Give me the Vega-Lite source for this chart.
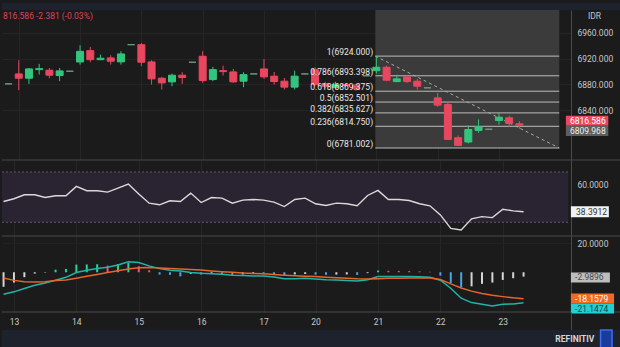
{
"$schema": "https://vega.github.io/schema/vega-lite/v6.json",
"background": "#1b1b1b",
"padding": 0,
"bounds": "flush",
"spacing": 0,
"config": {
  "font": "Roboto",
  "view": {"stroke": null},
  "axis": {"labelFont": "Roboto", "labelFontSize": 8.5, "labelColor": "#c8c8c8", "ticks": false, "domainColor": "#4a4a4a", "gridColor": "#262626", "gridWidth": 1}
},
"datasets": {
  "bars": [
    {"i":0,"o":6880.8,"h":6880.8,"l":6880.8,"c":6880.8,"r":46.5,"m":-15.2,"s":-4.0,"hs":-10.0},
    {"i":1,"o":6896.3,"h":6917.6,"l":6871.0,"c":6889.6,"r":48.7,"m":-13.5,"s":-5.6,"hs":-7.1},
    {"i":2,"o":6889.6,"h":6905.6,"l":6880.8,"c":6904.1,"r":51.9,"m":-11.2,"s":-6.5,"hs":-3.4},
    {"i":3,"o":6903.0,"h":6911.9,"l":6895.2,"c":6904.5,"r":51.9,"m":-8.9,"s":-6.7,"hs":-0.9},
    {"i":4,"o":6902.1,"h":6905.6,"l":6889.6,"c":6894.3,"r":49.7,"m":-7.4,"s":-6.5,"hs":-0.3},
    {"i":5,"o":6893.7,"h":6905.6,"l":6885.0,"c":6901.0,"r":51.1,"m":-5.5,"s":-5.7,"hs":1.8},
    {"i":6,"o":6900.5,"h":6900.5,"l":6900.5,"c":6900.5,"r":51.1,"m":-3.5,"s":-5.3,"hs":2.3},
    {"i":7,"o":6914.9,"h":6940.9,"l":6910.7,"c":6931.5,"r":58.5,"m":-0.2,"s":-4.1,"hs":5.3},
    {"i":8,"o":6932.5,"h":6938.3,"l":6914.5,"c":6918.5,"r":55.1,"m":1.4,"s":-2.8,"hs":5.4},
    {"i":9,"o":6918.5,"h":6926.3,"l":6917.6,"c":6920.7,"r":55.1,"m":2.6,"s":-1.5,"hs":5.5},
    {"i":10,"o":6921.2,"h":6925.4,"l":6910.8,"c":6916.0,"r":54.0,"m":3.4,"s":-0.1,"hs":4.6},
    {"i":11,"o":6915.0,"h":6931.6,"l":6910.8,"c":6927.4,"r":57.2,"m":5.0,"s":1.0,"hs":5.7},
    {"i":12,"o":6941.8,"h":6941.8,"l":6941.8,"c":6941.8,"r":60.4,"m":7.2,"s":2.2,"hs":6.4},
    {"i":13,"o":6941.8,"h":6944.5,"l":6908.3,"c":6914.5,"r":52.4,"m":6.7,"s":3.1,"hs":4.1},
    {"i":14,"o":6915.0,"h":6917.6,"l":6879.7,"c":6888.6,"r":45.2,"m":4.4,"s":3.2,"hs":1.4},
    {"i":15,"o":6889.6,"h":6891.7,"l":6872.0,"c":6882.3,"r":43.9,"m":2.5,"s":3.0,"hs":-1.6},
    {"i":16,"o":6883.9,"h":6896.8,"l":6877.2,"c":6894.3,"r":47.1,"m":1.4,"s":2.6,"hs":-1.8},
    {"i":17,"o":6894.3,"h":6899.0,"l":6880.8,"c":6890.6,"r":46.5,"m":0.8,"s":2.3,"hs":-2.8},
    {"i":18,"o":6914.5,"h":6914.5,"l":6914.5,"c":6914.5,"r":53.2,"m":-0.1,"s":1.9,"hs":-1.1},
    {"i":19,"o":6923.8,"h":6931.6,"l":6882.3,"c":6885.9,"r":45.7,"m":-0.7,"s":1.5,"hs":-1.6},
    {"i":20,"o":6887.5,"h":6907.2,"l":6885.0,"c":6903.0,"r":49.7,"m":-1.1,"s":0.9,"hs":-1.2},
    {"i":21,"o":6901.4,"h":6909.2,"l":6893.7,"c":6899.9,"r":49.2,"m":-1.4,"s":0.4,"hs":-1.5},
    {"i":22,"o":6899.4,"h":6904.1,"l":6882.3,"c":6883.9,"r":45.2,"m":-2.1,"s":0.0,"hs":-1.8},
    {"i":23,"o":6885.0,"h":6899.0,"l":6875.7,"c":6895.2,"r":47.6,"m":-2.3,"s":-0.5,"hs":-1.5},
    {"i":24,"o":6896.3,"h":6896.3,"l":6896.3,"c":6896.3,"r":48.1,"m":-2.5,"s":-0.8,"hs":-1.2},
    {"i":25,"o":6904.1,"h":6919.6,"l":6888.6,"c":6891.7,"r":47.6,"m":-2.5,"s":-1.1,"hs":-1.4},
    {"i":26,"o":6892.8,"h":6899.4,"l":6879.7,"c":6884.4,"r":46.0,"m":-3.2,"s":-1.5,"hs":-1.6},
    {"i":27,"o":6885.0,"h":6890.1,"l":6872.0,"c":6875.7,"r":42.5,"m":-4.4,"s":-2.0,"hs":-2.0},
    {"i":28,"o":6875.7,"h":6901.4,"l":6872.0,"c":6892.8,"r":48.1,"m":-4.4,"s":-2.4,"hs":-1.5},
    {"i":29,"o":6896.3,"h":6896.3,"l":6896.3,"c":6896.3,"r":49.2,"m":-4.1,"s":-2.7,"hs":-1.2},
    {"i":30,"o":6903.0,"h":6906.7,"l":6877.2,"c":6879.7,"r":44.7,"m":-4.6,"s":-3.0,"hs":-1.6},
    {"i":31,"o":6881.0,"h":6884.0,"l":6874.0,"c":6877.0,"r":43.3,"m":-5.1,"s":-3.4,"hs":-1.8},
    {"i":32,"o":6875.0,"h":6884.0,"l":6872.0,"c":6880.0,"r":45.2,"m":-5.3,"s":-3.7,"hs":-1.6},
    {"i":33,"o":6880.0,"h":6882.0,"l":6875.0,"c":6878.5,"r":44.7,"m":-5.7,"s":-4.1,"hs":-1.5},
    {"i":34,"o":6879.0,"h":6881.0,"l":6870.0,"c":6873.0,"r":43.1,"m":-6.0,"s":-4.5,"hs":-1.8},
    {"i":35,"o":6893.4,"h":6893.4,"l":6893.4,"c":6893.4,"r":51.3,"m":-5.1,"s":-4.6,"hs":-0.6},
    {"i":36,"o":6901.4,"h":6924.0,"l":6897.0,"c":6906.7,"r":55.3,"m":-3.0,"s":-4.4,"hs":1.2},
    {"i":37,"o":6906.7,"h":6909.2,"l":6885.0,"c":6886.5,"r":48.1,"m":-3.0,"s":-4.2,"hs":1.0},
    {"i":38,"o":6884.4,"h":6895.2,"l":6883.4,"c":6888.6,"r":48.1,"m":-3.0,"s":-4.1,"hs":0.9},
    {"i":39,"o":6891.7,"h":6893.7,"l":6882.3,"c":6884.4,"r":47.3,"m":-3.0,"s":-4.0,"hs":0.8},
    {"i":40,"o":6885.0,"h":6888.6,"l":6872.0,"c":6877.2,"r":44.7,"m":-3.1,"s":-3.9,"hs":0.6},
    {"i":41,"o":6874.6,"h":6874.6,"l":6874.6,"c":6874.6,"r":43.1,"m":-3.4,"s":-4.0,"hs":0.3},
    {"i":42,"o":6859.0,"h":6866.8,"l":6845.0,"c":6847.7,"r":35.9,"m":-5.5,"s":-5.0,"hs":-2.3},
    {"i":43,"o":6848.7,"h":6852.4,"l":6793.4,"c":6794.3,"r":25.2,"m":-11.0,"s":-8.0,"hs":-7.4},
    {"i":44,"o":6797.0,"h":6800.5,"l":6784.0,"c":6785.0,"r":23.9,"m":-17.9,"s":-10.8,"hs":-10.3},
    {"i":45,"o":6790.3,"h":6816.0,"l":6788.0,"c":6809.8,"r":32.7,"m":-20.9,"s":-13.0,"hs":-9.7},
    {"i":46,"o":6808.3,"h":6825.4,"l":6804.7,"c":6814.0,"r":34.5,"m":-22.1,"s":-14.7,"hs":-8.0},
    {"i":47,"o":6810.2,"h":6810.2,"l":6810.2,"c":6810.2,"r":33.7,"m":-23.2,"s":-15.9,"hs":-7.1},
    {"i":48,"o":6823.8,"h":6835.8,"l":6817.6,"c":6829.0,"r":40.4,"m":-22.1,"s":-16.8,"hs":-5.3},
    {"i":49,"o":6828.0,"h":6831.6,"l":6814.0,"c":6819.1,"r":39.1,"m":-21.8,"s":-17.6,"hs":-4.1},
    {"i":50,"o":6818.7,"h":6822.9,"l":6810.9,"c":6816.6,"r":38.4,"m":-21.1,"s":-18.2,"hs":-3.0}
  ],
  "fib": [
    {"t":"1(6924.000)","p":6924.0},
    {"t":"0.786(6893.398)","p":6893.398},
    {"t":"0.618(6869.375)","p":6869.375},
    {"t":"0.5(6852.501)","p":6852.501},
    {"t":"0.382(6835.627)","p":6835.627},
    {"t":"0.236(6814.750)","p":6814.75},
    {"t":"0(6781.002)","p":6781.002}
  ],
  "one": [{"k": 1}]
},
"vconcat": [
  {
    "width": 620, "height": 7,
    "view": {"fill": "#1e222c"},
    "data": {"name": "one"},
    "mark": {"type": "text", "text": ""},
    "encoding": {}
  },
  {
    "width": 569, "height": 150,
    "title": {"text": "816.586  -2.381 (-0.03%)", "anchor": "start", "orient": "top", "frame": "group", "offset": -14, "baseline": "middle", "fontSize": 8.5, "fontWeight": "normal", "color": "#d9475c", "font": "Roboto", "dx": 1},
    "layer": [
      {
        "data": {"name": "one"},
        "mark": {"type": "rect", "color": "#3b3b3b"},
        "encoding": {
          "x": {"datum": 35.9, "type": "quantitative", "scale": {"domain": [-0.15, 54.56], "nice": false, "zero": false},
                "axis": {"values": [1,7,13,19,25,30,36,42,48], "labels": false, "domain": false, "grid": true, "title": null}},
          "x2": {"datum": 53.9},
          "y": {"datum": 6995.8, "type": "quantitative", "scale": {"domain": [6762.3, 6995.8], "nice": false, "zero": false},
                "axis": {"orient": "right", "values": [6840,6880,6920,6960], "format": ".3f", "labelPadding": 6, "domain": true, "grid": true, "gridColor": "#242424",
                         "title": "IDR", "titleAngle": 0, "titleAlign": "center", "titleBaseline": "middle", "titleX": 23, "titleY": 5, "titleColor": "#c8c8c8", "titleFontSize": 8.5, "titleFontWeight": "normal", "titleFont": "Roboto"}},
          "y2": {"datum": 6781.002}
        }
      },
      {
        "data": {"name": "fib"},
        "mark": {"type": "rule", "color": "#bdbdbd", "strokeWidth": 1},
        "encoding": {
          "x": {"datum": 35.9, "type": "quantitative"}, "x2": {"datum": 53.9},
          "y": {"field": "p", "type": "quantitative"}
        }
      },
      {
        "data": {"name": "one"},
        "mark": {"type": "rule", "color": "#a8a8a8", "strokeWidth": 1, "strokeDash": [3, 3]},
        "encoding": {
          "x": {"datum": 35.9, "type": "quantitative"}, "x2": {"datum": 53.9},
          "y": {"datum": 6924.0, "type": "quantitative"}, "y2": {"datum": 6781.002}
        }
      },
      {
        "data": {"name": "bars"},
        "mark": {"type": "rule", "strokeWidth": 1},
        "encoding": {
          "x": {"field": "i", "type": "quantitative"},
          "y": {"field": "l", "type": "quantitative"},
          "y2": {"field": "h"},
          "color": {"condition": [{"test": "datum.c > datum.o", "value": "#33c57d"}, {"test": "datum.c < datum.o", "value": "#e8475f"}], "value": "#6f9a80"}
        }
      },
      {
        "data": {"name": "bars"},
        "mark": {"type": "bar", "size": 7, "strokeWidth": 1},
        "encoding": {
          "x": {"field": "i", "type": "quantitative"},
          "y": {"field": "o", "type": "quantitative"},
          "y2": {"field": "c"},
          "fill": {"condition": [{"test": "datum.c > datum.o", "value": "#33c57d"}, {"test": "datum.c < datum.o", "value": "#e8475f"}], "value": "#6f9a80"},
          "stroke": {"condition": [{"test": "datum.c > datum.o", "value": "#33c57d"}, {"test": "datum.c < datum.o", "value": "#e8475f"}], "value": "#6f9a80"}
        }
      },
      {
        "data": {"name": "fib"},
        "mark": {"type": "text", "align": "right", "baseline": "alphabetic", "dy": -1, "fontSize": 8.5, "color": "#e8e8e8"},
        "encoding": {
          "x": {"datum": 35.68, "type": "quantitative"},
          "y": {"field": "p", "type": "quantitative"},
          "text": {"field": "t"}
        }
      },
      {
        "data": {"name": "one"},
        "mark": {"type": "rule", "strokeWidth": 10, "color": "#e8495f"},
        "encoding": {"x": {"datum": 54.55, "type": "quantitative"}, "x2": {"datum": 58.7}, "y": {"datum": 6823.3, "type": "quantitative"}}
      },
      {
        "data": {"name": "one"},
        "mark": {"type": "text", "align": "left", "baseline": "middle", "fontSize": 8.5, "color": "#ffffff"},
        "encoding": {"x": {"datum": 54.95, "type": "quantitative"}, "y": {"datum": 6823.3, "type": "quantitative"}, "text": {"value": "6816.586"}}
      },
      {
        "data": {"name": "one"},
        "mark": {"type": "rule", "strokeWidth": 10, "color": "#5e5e5e"},
        "encoding": {"x": {"datum": 54.55, "type": "quantitative"}, "x2": {"datum": 58.7}, "y": {"datum": 6807.4, "type": "quantitative"}}
      },
      {
        "data": {"name": "one"},
        "mark": {"type": "text", "align": "left", "baseline": "middle", "fontSize": 8.5, "color": "#ececec"},
        "encoding": {"x": {"datum": 54.95, "type": "quantitative"}, "y": {"datum": 6807.4, "type": "quantitative"}, "text": {"value": "6809.968"}}
      }
    ]
  },
  {
    "width": 569, "height": 76,
    "layer": [
      {
        "data": {"name": "one"},
        "mark": {"type": "rect", "color": "#2a2432"},
        "encoding": {
          "x": {"datum": -0.15, "type": "quantitative", "scale": {"domain": [-0.15, 54.56], "nice": false, "zero": false},
                "axis": {"values": [1,7,13,19,25,30,36,42,48], "labels": false, "domain": false, "grid": true, "title": null}},
          "x2": {"datum": 54.3},
          "y": {"datum": 70, "type": "quantitative", "scale": {"domain": [19.1, 79.5], "nice": false, "zero": false},
                "axis": {"orient": "right", "values": [60], "format": ".4f", "labelPadding": 6, "domain": true, "grid": false, "title": null}},
          "y2": {"datum": 30}
        }
      },
      {
        "data": {"values": [{"v": 70}, {"v": 30}]},
        "mark": {"type": "rule", "color": "#5e566e", "strokeWidth": 1, "strokeDash": [2, 2]},
        "encoding": {
          "x": {"datum": -0.15, "type": "quantitative"}, "x2": {"datum": 54.3},
          "y": {"field": "v", "type": "quantitative"}
        }
      },
      {
        "data": {"name": "bars"},
        "mark": {"type": "line", "color": "#d9d9d9", "strokeWidth": 1.4},
        "encoding": {
          "x": {"field": "i", "type": "quantitative"},
          "y": {"field": "r", "type": "quantitative"}
        }
      },
      {
        "data": {"name": "one"},
        "mark": {"type": "rule", "color": "#484848", "strokeWidth": 1},
        "encoding": {"x": {"datum": -0.15, "type": "quantitative"}, "x2": {"datum": 59.3}, "y": {"datum": 79.5, "type": "quantitative"}}
      },
      {
        "data": {"name": "one"},
        "mark": {"type": "rule", "strokeWidth": 11, "color": "#f2f2f2"},
        "encoding": {"x": {"datum": 54.55, "type": "quantitative"}, "x2": {"datum": 58.2}, "y": {"datum": 38.39, "type": "quantitative"}}
      },
      {
        "data": {"name": "one"},
        "mark": {"type": "text", "align": "left", "baseline": "middle", "fontSize": 8.5, "color": "#333333"},
        "encoding": {"x": {"datum": 55.05, "type": "quantitative"}, "y": {"datum": 38.39, "type": "quantitative"}, "text": {"value": "38.3912"}}
      }
    ]
  },
  {
    "width": 569, "height": 76,
    "layer": [
      {
        "data": {"name": "bars"},
        "transform": [{"window": [{"op": "lag", "field": "hs", "as": "prev"}], "sort": [{"field": "i"}]}],
        "mark": {"type": "rule", "strokeWidth": 2},
        "encoding": {
          "x": {"field": "i", "type": "quantitative", "scale": {"domain": [-0.15, 54.56], "nice": false, "zero": false},
                "axis": {"values": [1,7,13,19,25,30,36,42,48], "labelExpr": "['13','14','15','16','17','20','21','22','23'][indexof([1,7,13,19,25,30,36,42,48], datum.value)]", "labels": true, "labelPadding": 5, "domain": false, "grid": true, "title": null}},
          "y": {"field": "hs", "type": "quantitative", "scale": {"domain": [-27.4, 25.0], "nice": false, "zero": false},
                "axis": {"orient": "right", "values": [20], "format": ".4f", "labelPadding": 6, "domain": true, "grid": true, "gridColor": "#222222", "title": null}},
          "y2": {"datum": 0},
          "color": {"condition": [
            {"test": "datum.hs >= 0 && (datum.prev == null || datum.hs >= datum.prev)", "value": "#2bd19a"},
            {"test": "datum.hs >= 0", "value": "#e5566f"},
            {"test": "datum.prev != null && datum.hs < datum.prev", "value": "#4aa6e6"}
          ], "value": "#d4d4d4"}
        }
      },
      {
        "data": {"name": "bars"},
        "mark": {"type": "line", "color": "#1fb5aa", "strokeWidth": 1.5},
        "encoding": {"x": {"field": "i", "type": "quantitative"}, "y": {"field": "m", "type": "quantitative"}}
      },
      {
        "data": {"name": "bars"},
        "mark": {"type": "line", "color": "#e8652a", "strokeWidth": 1.5},
        "encoding": {"x": {"field": "i", "type": "quantitative"}, "y": {"field": "s", "type": "quantitative"}}
      },
      {
        "data": {"values": [{"v": 25.0}, {"v": -27.4}]},
        "mark": {"type": "rule", "color": "#4a4a4a", "strokeWidth": 1},
        "encoding": {"x": {"datum": -0.15, "type": "quantitative"}, "x2": {"datum": 59.3}, "y": {"field": "v", "type": "quantitative"}}
      },
      {
        "data": {"name": "one"},
        "mark": {"type": "rule", "strokeWidth": 10, "color": "#bdbdbd"},
        "encoding": {"x": {"datum": 54.55, "type": "quantitative"}, "x2": {"datum": 58.3}, "y": {"datum": -3.6, "type": "quantitative"}}
      },
      {
        "data": {"name": "one"},
        "mark": {"type": "text", "align": "left", "baseline": "middle", "fontSize": 8.5, "color": "#4a4a4a"},
        "encoding": {"x": {"datum": 54.95, "type": "quantitative"}, "y": {"datum": -3.6, "type": "quantitative"}, "text": {"value": "-2.9896"}}
      },
      {
        "data": {"name": "one"},
        "mark": {"type": "rule", "strokeWidth": 10, "color": "#f06a22"},
        "encoding": {"x": {"datum": 54.55, "type": "quantitative"}, "x2": {"datum": 58.7}, "y": {"datum": -18.16, "type": "quantitative"}}
      },
      {
        "data": {"name": "one"},
        "mark": {"type": "text", "align": "left", "baseline": "middle", "fontSize": 8.5, "color": "#ffffff"},
        "encoding": {"x": {"datum": 54.95, "type": "quantitative"}, "y": {"datum": -18.16, "type": "quantitative"}, "text": {"value": "-18.1579"}}
      },
      {
        "data": {"name": "one"},
        "mark": {"type": "rule", "strokeWidth": 10, "color": "#22d0d4"},
        "encoding": {"x": {"datum": 54.55, "type": "quantitative"}, "x2": {"datum": 58.7}, "y": {"datum": -25.0, "type": "quantitative"}}
      },
      {
        "data": {"name": "one"},
        "mark": {"type": "text", "align": "left", "baseline": "middle", "fontSize": 8.5, "color": "#1d3c48"},
        "encoding": {"x": {"datum": 54.95, "type": "quantitative"}, "y": {"datum": -25.0, "type": "quantitative"}, "text": {"value": "-21.1474"}}
      }
    ]
  },
  {
    "width": 569, "height": 18,
    "data": {"name": "one"},
    "mark": {"type": "text", "text": ""},
    "encoding": {
      "y": {"datum": 0, "type": "quantitative", "scale": {"domain": [0, 1]},
            "axis": {"orient": "right", "labels": false, "grid": false, "domain": true, "title": null}}
    }
  },
  {
    "width": 620, "height": 20,
    "view": {"fill": "#1e222c"},
    "data": {"name": "one"},
    "layer": [
      {
        "mark": {"type": "rect", "fill": "#1b3a9e", "stroke": "#3f6df2", "strokeWidth": 1.5},
        "encoding": {
          "x": {"datum": 57.4, "type": "quantitative", "scale": {"domain": [-0.15, 59.46], "nice": false, "zero": false}, "axis": null},
          "x2": {"datum": 58.5}
        }
      },
      {
        "mark": {"type": "text", "align": "right", "baseline": "middle", "dy": -1, "fontSize": 8.5, "fontWeight": "bold", "color": "#d6d6d6"},
        "encoding": {
          "x": {"datum": 56.8, "type": "quantitative", "scale": {"domain": [-0.15, 59.46], "nice": false, "zero": false}, "axis": null},
          "text": {"value": "REFINITIV"}
        }
      }
    ]
  }
]
}
